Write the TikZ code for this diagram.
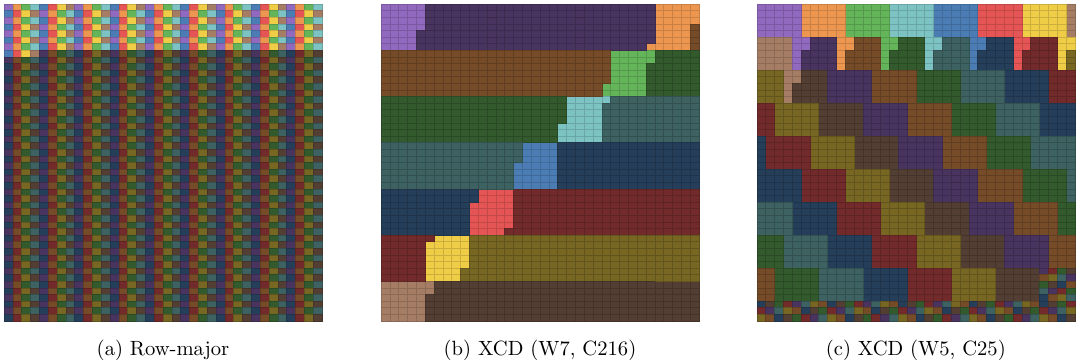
\documentclass[tikz,border=0pt]{standalone}
\usepackage{xcolor}
\definecolor{c0b}{HTML}{9169BE}
\definecolor{c1b}{HTML}{EC9650}
\definecolor{c2b}{HTML}{64B45A}
\definecolor{c3b}{HTML}{7DC3C3}
\definecolor{c4b}{HTML}{4B7DB4}
\definecolor{c5b}{HTML}{E65555}
\definecolor{c6b}{HTML}{F0CD46}
\definecolor{c7b}{HTML}{A57D64}
\colorlet{c0d}{c0b!50!black}
\colorlet{c1d}{c1b!50!black}
\colorlet{c2d}{c2b!50!black}
\colorlet{c3d}{c3b!50!black}
\colorlet{c4d}{c4b!50!black}
\colorlet{c5d}{c5b!50!black}
\colorlet{c6d}{c6b!50!black}
\colorlet{c7d}{c7b!50!black}
\colorlet{c0bl}{c0b!85!black}
\colorlet{c1bl}{c1b!85!black}
\colorlet{c2bl}{c2b!85!black}
\colorlet{c3bl}{c3b!85!black}
\colorlet{c4bl}{c4b!85!black}
\colorlet{c5bl}{c5b!85!black}
\colorlet{c6bl}{c6b!85!black}
\colorlet{c7bl}{c7b!85!black}
\colorlet{c0dl}{c0d!82!black}
\colorlet{c1dl}{c1d!82!black}
\colorlet{c2dl}{c2d!82!black}
\colorlet{c3dl}{c3d!82!black}
\colorlet{c4dl}{c4d!82!black}
\colorlet{c5dl}{c5d!82!black}
\colorlet{c6dl}{c6d!82!black}
\colorlet{c7dl}{c7d!82!black}
% floor division: #1 := floor(#2 / #3)
\newcommand\fdiv[3]{\edef#1{\the\numexpr(#2)/(#3)\relax}\ifnum\numexpr#1*(#3)\relax>\numexpr#2\relax\edef#1{\the\numexpr#1-1\relax}\fi}
% one panel: #1 left x, #2 window W (rows per group), #3 chunk size C (0 = no remap)
\newcommand\tilepanel[3]{%
  \foreach \p in {0,...,1727}{%
    \fdiv\loc{\p}{8}%
    \edef\xcd{\the\numexpr\p-8*\loc\relax}%
    \edef\npid{\p}%
    \ifnum#3>0
      \fdiv\cyc{1728}{8*#3}%
      \ifnum\p<\numexpr\cyc*8*#3\relax
        \fdiv\chk{\loc}{#3}%
        \edef\npid{\the\numexpr\chk*8*#3+\xcd*#3+\loc-\chk*#3\relax}%
      \fi
    \fi
    \fdiv\gid{\npid}{#2*36}%
    \edef\gfirst{\the\numexpr\gid*#2\relax}%
    \edef\gsz{\the\numexpr48-\gfirst\relax}%
    \ifnum\gsz>#2 \edef\gsz{#2}\fi
    \edef\goff{\the\numexpr\npid-\gid*#2*36\relax}%
    \fdiv\coli{\goff}{\gsz}%
    \edef\rowi{\the\numexpr\gfirst+\goff-\coli*\gsz\relax}%
    \ifnum\p<256 \edef\cc{c\xcd b}\else\edef\cc{c\xcd d}\fi
    \edef\ccl{\cc l}%
    \filldraw[tilecell, fill=\cc, draw=\ccl] ({#1+\coli*8.8333},{4+\rowi*6.6}) rectangle +(8.8333,6.6);
  }%
}
\begin{document}
\begin{tikzpicture}[x=0.5pt,y=-0.5pt,
  tilecell/.style={line width=0.2pt},
  caption/.style={anchor=base, inner sep=0pt, font=\fontsize{10.3}{12}\selectfont}]
\fill[white] (0,0) rectangle (1080,363);
\useasboundingbox (0,0) rectangle (1080,363);
\tilepanel{4}{1}{0}
\tilepanel{381}{7}{216}
\tilepanel{756.7}{5}{25}
\node[caption] (capa) at (163,355) {(a) Row-major};
\node[caption] (capb) at (540,355) {(b) XCD (W7, C216)};
\node[caption] (capc) at (915.8,355) {(c) XCD (W5, C25)};
\end{tikzpicture}
\end{document}
